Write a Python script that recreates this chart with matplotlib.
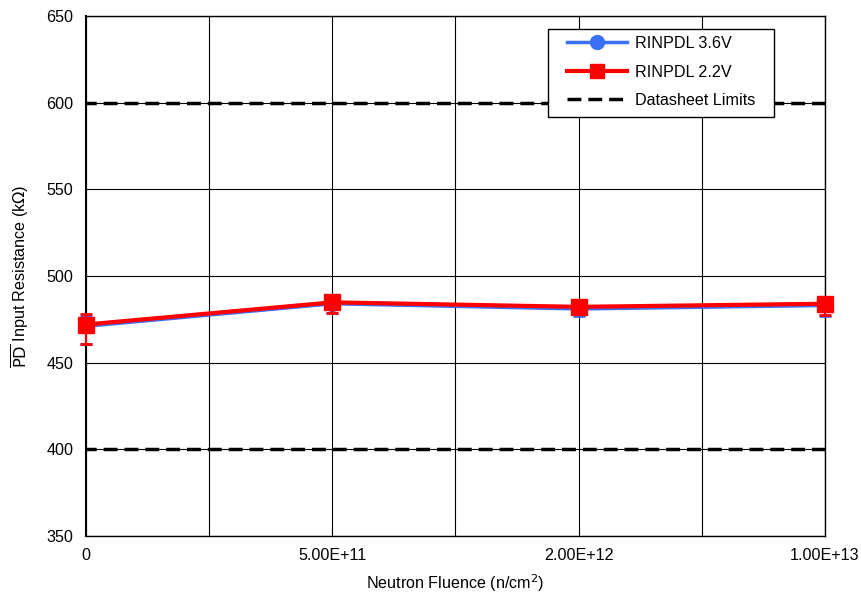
import matplotlib
matplotlib.use("Agg")
import matplotlib.pyplot as plt
from matplotlib.lines import Line2D
from matplotlib.patches import Rectangle
import numpy as np

plt.rcParams['font.family'] = ['Liberation Sans', 'DejaVu Sans']

categories = ['0', '5.00E+11', '2.00E+12', '1.00E+13']
rinpdl_36 = [471.0, 484.0, 481.0, 483.0]
rinpdl_36_err_lo = [10.0, 5.5, 4.0, 6.0]
rinpdl_36_err_hi = [6.0, 1.5, 4.0, 1.5]
rinpdl_22 = [472.0, 484.8, 482.2, 484.0]
rinpdl_22_err_lo = [11.0, 6.0, 4.0, 6.5]
rinpdl_22_err_hi = [6.0, 1.5, 4.0, 1.5]
limits = [400, 600]

blue = '#3a6ff7'
red = '#ff0000'
FS = 11.6

fig = plt.figure(figsize=(8.62, 5.96), dpi=100)
ax = fig.add_axes([86/862, 1-536/596, (825-86)/862, (536-16)/596])

x = np.arange(len(categories))
e1 = ax.errorbar(x, rinpdl_36, yerr=[rinpdl_36_err_lo, rinpdl_36_err_hi], color=blue,
                 lw=2.5, marker='o', ms=10, capsize=4, elinewidth=1.5, capthick=2, zorder=4)
e2 = ax.errorbar(x, rinpdl_22, yerr=[rinpdl_22_err_lo, rinpdl_22_err_hi], color=red,
                 lw=3, marker='s', ms=11, capsize=4, elinewidth=1.5, capthick=2, zorder=5)
for e in (e1, e2):
    for art in e.get_children():
        art.set_clip_on(False)
for lim in limits:
    ax.plot([-0.5, 3.5], [lim, lim], color='black', lw=2.5, ls=(0, (4, 2)), zorder=3)

ax.set_xlim(0, 3)
ax.set_ylim(350, 650)
ax.set_xticks(x)
ax.set_xticklabels(categories)
ax.set_xticks(np.arange(0, 3.01, 0.5), minor=True)
ax.set_yticks(np.arange(350, 651, 50))
ax.grid(True, which='both', axis='x', color='black', lw=0.8)
ax.grid(True, which='major', axis='y', color='black', lw=0.8)
ax.set_axisbelow(True)
ax.tick_params(axis='both', which='both', length=0, labelsize=FS, pad=9)
for s in ax.spines.values():
    s.set_color('black')
    s.set_linewidth(1)
ax.spines['left'].set_linewidth(1.5)

ax.set_xlabel('Neutron Fluence (n/cm$^2$)', fontsize=FS, labelpad=6)
ax.set_ylabel(r'$\overline{\mathrm{PD}}$ Input Resistance (k$\Omega$)', fontsize=FS, labelpad=11)

# legend frame drawn as a rectangle in axes coordinates
frame = Rectangle(((548-86)/739, (536-117)/520), 226/739, 88/520, transform=ax.transAxes,
                  facecolor='white', edgecolor='black', lw=1, zorder=9, clip_on=False)
ax.add_patch(frame)

handles = [
    Line2D([], [], color=blue, lw=2.5, marker='o', ms=10),
    Line2D([], [], color=red, lw=3, marker='s', ms=10),
    Line2D([], [], color='black', lw=2.5, ls=(0, (4, 2))),
]
labels = ['RINPDL 3.6V', 'RINPDL 2.2V', 'Datasheet Limits']
leg = ax.legend(handles, labels, loc='upper left', bbox_to_anchor=((567-86)/739, (536-36)/520),
                borderaxespad=0, borderpad=0, fontsize=FS, frameon=False,
                handlelength=3.75, labelspacing=0.84, handletextpad=0.45)
leg.set_zorder(10)

fig.savefig('out.png', dpi=100)
